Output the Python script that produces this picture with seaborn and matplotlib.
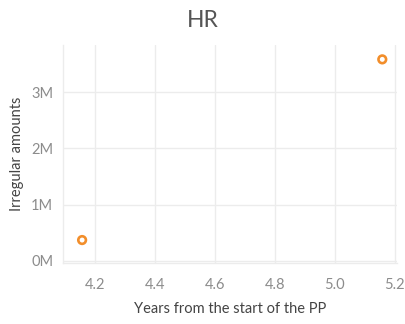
import matplotlib
matplotlib.use("Agg")
import matplotlib.pyplot as plt
import matplotlib.ticker as mticker
import seaborn as sns
import pandas as pd

# Data: years since programme start vs irregular amounts (in units)
years = [4.157, 5.159]
amounts = [370000, 3585000]
x_ticks = [4.2, 4.4, 4.6, 4.8, 5.0, 5.2]
y_ticks = [0, 1_000_000, 2_000_000, 3_000_000]

df = pd.DataFrame({"years": years, "amounts": amounts})

sns.set_theme(style="white")
plt.rcParams["font.family"] = ["Lato", "DejaVu Sans"]

fig = plt.figure(figsize=(4.06, 3.24), dpi=100)
ax = fig.add_axes([0.155, 0.188, 0.822, 0.673])

sns.scatterplot(data=df, x="years", y="amounts", ax=ax, marker="o",
                s=30, facecolor="none", edgecolor="#f28e2b", linewidth=1.9,
                zorder=3)

ax.set_xlim(4.093, 5.207)
ax.set_ylim(-40000, 3_840_000)
ax.set_xticks(x_ticks)
ax.set_yticks(y_ticks)
ax.xaxis.set_major_formatter(mticker.FormatStrFormatter("%.1f"))
ax.yaxis.set_major_formatter(mticker.FuncFormatter(lambda v, p: f"{v/1e6:.0f}M"))

grid_c = "#ececec"
ax.grid(True, color=grid_c, linewidth=1)
for s in ["top", "right"]:
    ax.spines[s].set_visible(False)
for s in ["left", "bottom"]:
    ax.spines[s].set_color(grid_c)
    ax.spines[s].set_linewidth(1)

ax.tick_params(axis="both", colors=grid_c, labelcolor="#8c8c8c",
               labelsize=10.5, length=4, width=1)
ax.tick_params(axis="x", pad=7)
ax.tick_params(axis="y", pad=3)

ax.set_xlabel("Years from the start of the PP", color="#444444",
              fontsize=10.5, labelpad=7)
ax.set_ylabel("Irregular amounts", color="#444444", fontsize=10.5,
              labelpad=5)
fig.text(0.5, 0.936, "HR", ha="center", va="center", fontsize=16.5,
         color="#555555")

fig.savefig("out.png", dpi=100)
